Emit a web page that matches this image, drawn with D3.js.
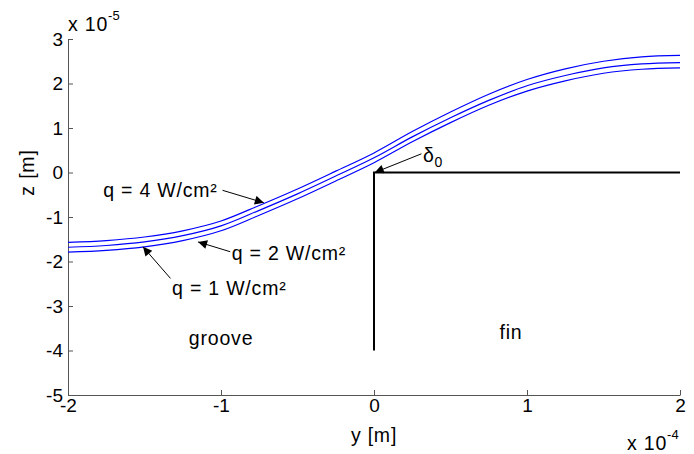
<!DOCTYPE html>
<html>
<head>
<meta charset="utf-8">
<script src="https://cdn.jsdelivr.net/npm/d3@7"></script>
<style>
  body { margin: 0; background: #fff; }
  svg text { font-family: "Liberation Sans", Arial, sans-serif; fill: #000; }
  .axis path, .axis line { stroke: #555; }
  .axis text { font-size: 19px; }
  .lbl { font-size: 19.5px; letter-spacing: 0.8px; }
</style>
</head>
<body>
<div id="chart"></div>
<script>
// y positions (x 10^-4 m)
var yPos = [-2, -1.75, -1.5, -1.25, -1, -0.75, -0.5, -0.25, 0, 0.25, 0.5, 0.75, 1, 1.25, 1.5, 1.75, 2];
// interface height z (x 10^-5 m) for each heat flux
var zQ4 = [-1.57, -1.53, -1.45, -1.31, -1.09, -0.74, -0.37, 0.03, 0.44, 0.92, 1.36, 1.76, 2.09, 2.33, 2.50, 2.60, 2.63];
var zQ2 = [-1.68, -1.64, -1.56, -1.42, -1.20, -0.85, -0.48, -0.08, 0.33, 0.80, 1.23, 1.62, 1.95, 2.18, 2.35, 2.44, 2.47];
var zQ1 = [-1.79, -1.75, -1.67, -1.53, -1.31, -0.96, -0.59, -0.19, 0.22, 0.69, 1.12, 1.51, 1.83, 2.06, 2.23, 2.32, 2.35];
var seriesNames = ["q = 4 W/cm²", "q = 2 W/cm²", "q = 1 W/cm²"];

// fin outline (y, z)
var finY = [0, 0, 2];
var finZ = [-4, 0, 0];

var xTicks = [-2, -1, 0, 1, 2];
var yTicks = [-5, -4, -3, -2, -1, 0, 1, 2, 3];

var width = 694, height = 454;
var margin = {top: 39, right: 14, bottom: 59, left: 68};

var svg = d3.select("#chart").append("svg")
    .attr("width", width)
    .attr("height", height);

var xScale = d3.scaleLinear().domain([-2, 2]).range([margin.left, width - margin.right]);
var yScale = d3.scaleLinear().domain([-5, 3]).range([height - margin.bottom, margin.top]);

// arrow head
svg.append("defs").append("marker")
    .attr("id", "head")
    .attr("viewBox", "0 0 10 10")
    .attr("refX", 10).attr("refY", 5)
    .attr("markerUnits", "userSpaceOnUse")
    .attr("markerWidth", 13).attr("markerHeight", 9)
    .attr("orient", "auto")
  .append("path")
    .attr("d", "M0,0 L10,5 L0,10 z")
    .attr("fill", "#000");

// axes (box off, ticks inward), plain hyphen minus like matlab
var fmt = function(d) { return String(d); };
svg.append("g")
    .attr("class", "axis")
    .attr("transform", "translate(0," + yScale(-5) + ")")
    .call(d3.axisBottom(xScale).tickValues(xTicks).tickSizeInner(-5).tickSizeOuter(0).tickPadding(4).tickFormat(fmt));

svg.append("g")
    .attr("class", "axis")
    .attr("transform", "translate(" + xScale(-2) + ",0)")
    .call(d3.axisLeft(yScale).tickValues(yTicks).tickSizeInner(-5).tickSizeOuter(0).tickPadding(5).tickFormat(fmt));

svg.selectAll(".axis text").attr("fill", "#000").style("font-family", "Liberation Sans, Arial, sans-serif");

// exponent labels
var e5 = svg.append("text").attr("class", "lbl").attr("x", xScale(-2)).attr("y", 31);
e5.append("tspan").text("x 10");
e5.append("tspan").attr("dy", -11).style("font-size", "13px").style("letter-spacing", "0px").text("-5");

var e4 = svg.append("text").attr("class", "lbl").attr("x", 627).attr("y", 450);
e4.append("tspan").text("x 10");
e4.append("tspan").attr("dy", -11).style("font-size", "13px").style("letter-spacing", "0px").text("-4");

// axis labels
svg.append("text")
    .attr("class", "lbl")
    .attr("x", xScale(0)).attr("y", 442)
    .attr("text-anchor", "middle")
    .text("y [m]");

svg.append("text")
    .attr("class", "lbl")
    .attr("transform", "translate(34," + yScale(0) + ") rotate(-90)")
    .attr("text-anchor", "middle")
    .text("z [m]");

// fin
var line = d3.line().x(function(d) { return xScale(d[0]); }).y(function(d) { return yScale(d[1]); });
svg.append("path")
    .datum(d3.zip(finY, finZ))
    .attr("d", line)
    .attr("fill", "none")
    .attr("stroke", "#000")
    .attr("stroke-width", 2);

// interfaces
var curve = d3.line().curve(d3.curveMonotoneX)
    .x(function(d) { return xScale(d[0]); }).y(function(d) { return yScale(d[1]); });
[zQ4, zQ2, zQ1].forEach(function(z) {
  svg.append("path")
      .datum(d3.zip(yPos, z))
      .attr("d", curve)
      .attr("fill", "none")
      .attr("stroke", "#0000ff")
      .attr("stroke-width", 1.2);
});

// annotations: text anchor and arrow (tail -> tip), data coordinates
var labelPos = [[-1.77, -0.55], [-0.93, -1.97], [-1.32, -2.76]];
var arrowFrom = [[-0.99, -0.40], [-0.94, -1.78], [-1.33, -2.38]];
var arrowTo = [[-0.72, -0.68], [-1.15, -1.56], [-1.51, -1.67]];

seriesNames.forEach(function(name, i) {
  svg.append("text")
      .attr("class", "lbl")
      .attr("x", xScale(labelPos[i][0])).attr("y", yScale(labelPos[i][1]))
      .text(name);
  svg.append("line")
      .attr("x1", xScale(arrowFrom[i][0])).attr("y1", yScale(arrowFrom[i][1]))
      .attr("x2", xScale(arrowTo[i][0])).attr("y2", yScale(arrowTo[i][1]))
      .attr("stroke", "#000").attr("stroke-width", 1)
      .attr("marker-end", "url(#head)");
});

// delta_0
var d0 = svg.append("text")
    .attr("class", "lbl")
    .attr("x", xScale(0.32)).attr("y", yScale(0.23));
d0.append("tspan").text("δ");
d0.append("tspan").attr("dy", 5).style("font-size", "14px").text("0");
svg.append("line")
    .attr("x1", xScale(0.31)).attr("y1", yScale(0.42))
    .attr("x2", xScale(0.005)).attr("y2", yScale(0.0))
    .attr("stroke", "#000").attr("stroke-width", 1)
    .attr("marker-end", "url(#head)");

// region labels
svg.append("text").attr("class", "lbl").attr("x", xScale(-1.21)).attr("y", yScale(-3.88)).text("groove");
svg.append("text").attr("class", "lbl").attr("x", xScale(0.82)).attr("y", yScale(-3.74)).text("fin");
</script>
</body>
</html>
